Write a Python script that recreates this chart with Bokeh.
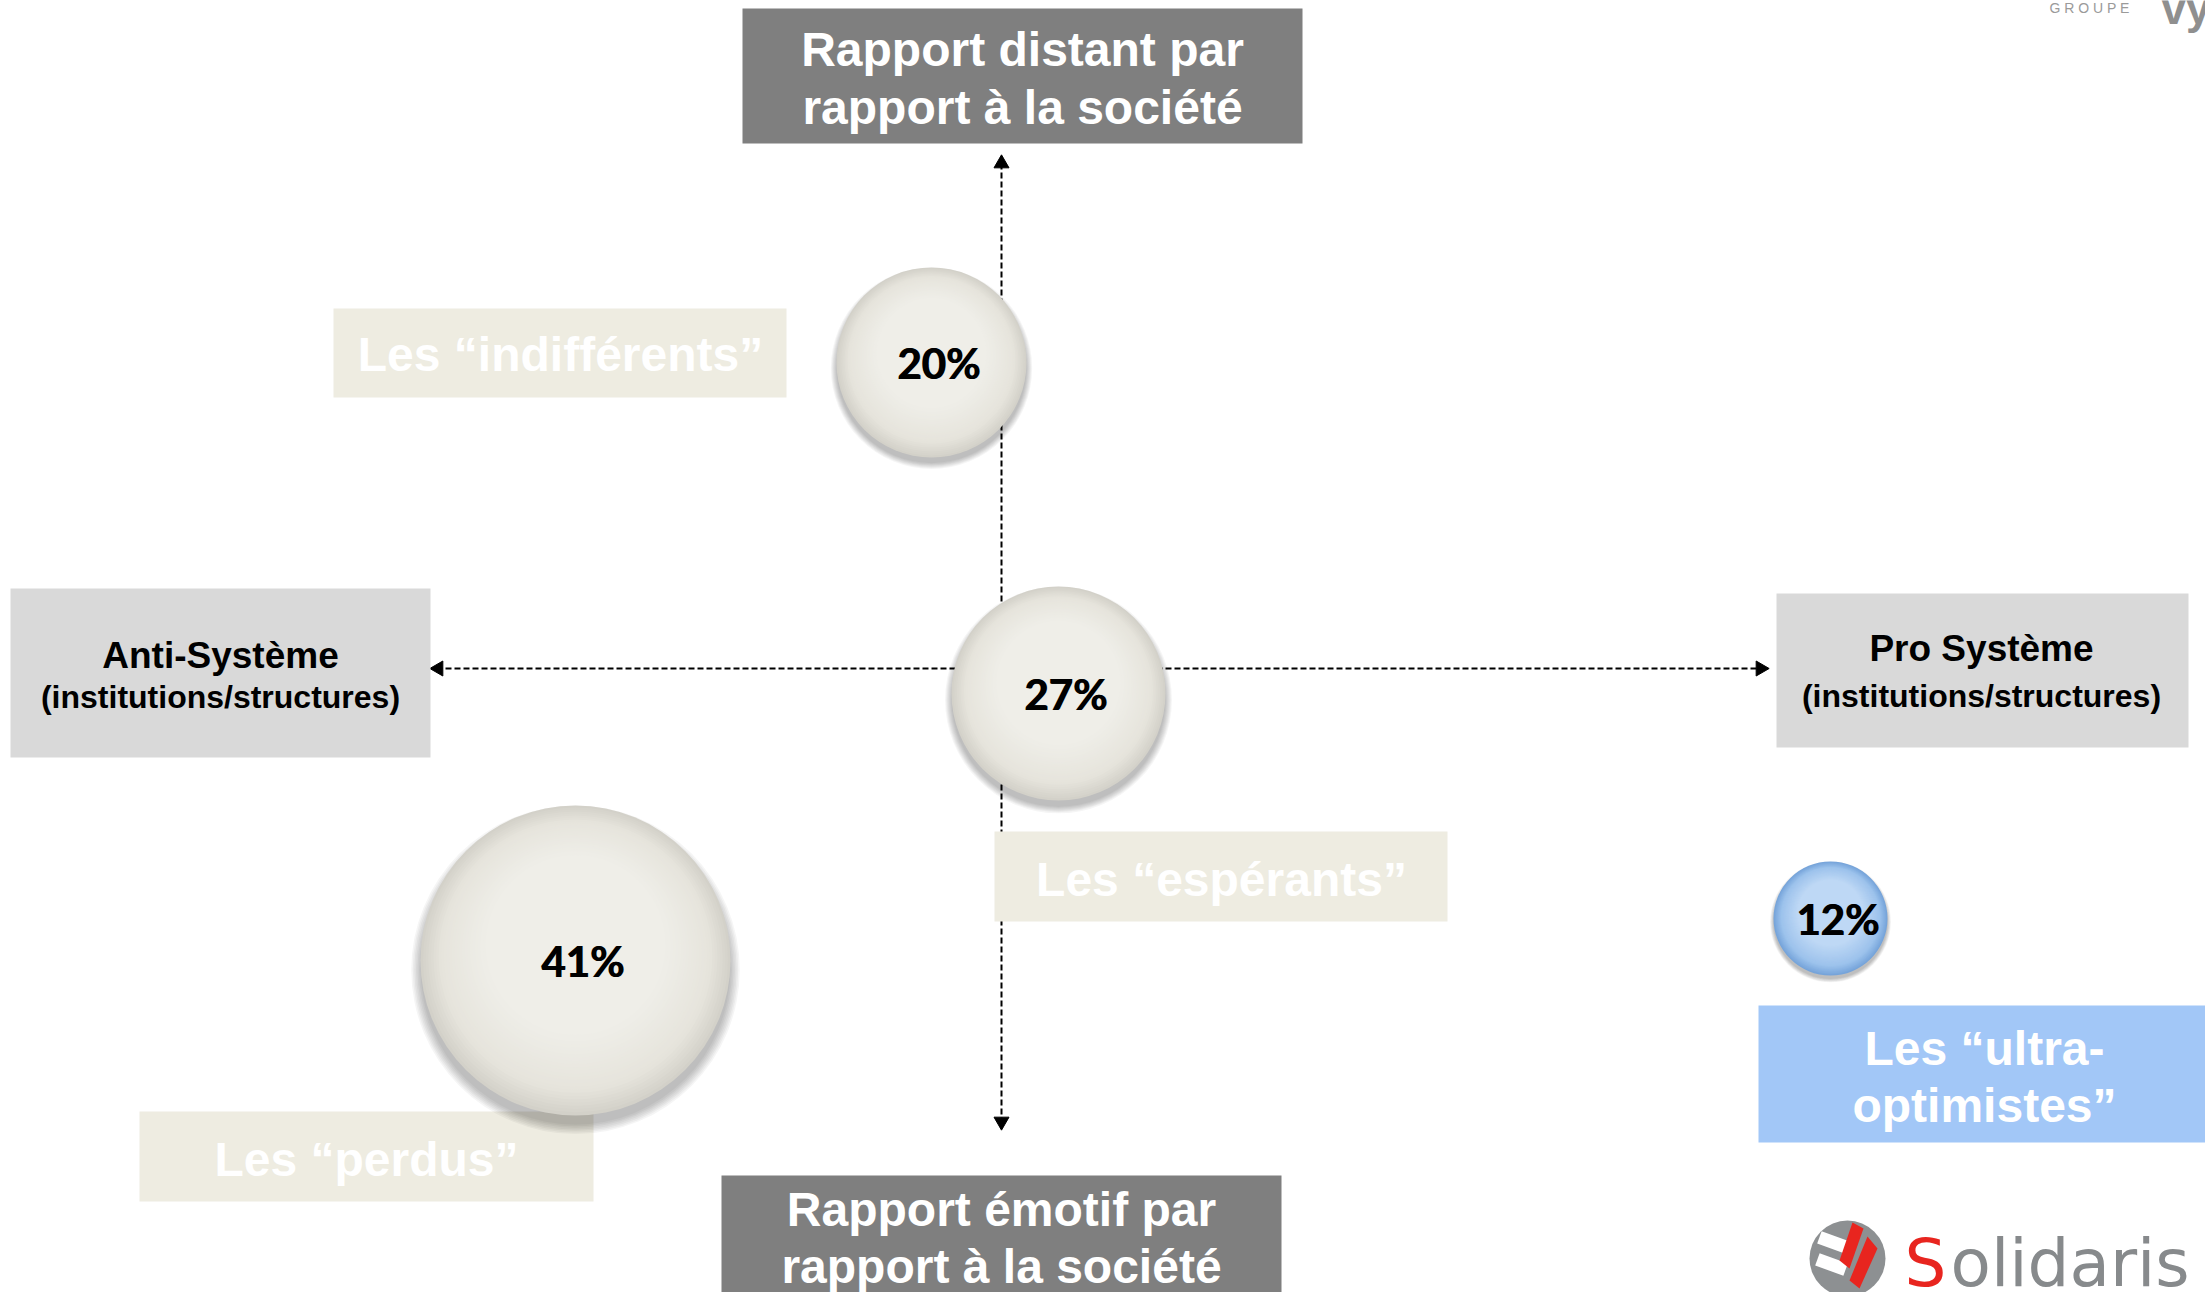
import numpy as np
from bokeh.plotting import figure
from bokeh.models import Range1d
from bokeh.core.properties import value
from bokeh.embed import file_html
from bokeh.resources import INLINE

# ---------------- data ----------------
# x: Anti-Système (-)  <->  Pro Système (+)
# y: Rapport émotif (-) <-> Rapport distant (+)
segments = ["Les “indifférents”", "Les “espérants”", "Les “perdus”", "Les “ultra-optimistes”"]
pct = [20, 27, 41, 12]
bubble_x = [-0.70, 0.57, -4.26, 8.29]
bubble_y = [3.06, -0.25, -2.92, -2.50]
bubble_r = [0.95, 1.07, 1.55, 0.57]
bubble_theme = ["neutral", "neutral", "neutral", "blue"]

axis_top = ["Rapport distant par", "rapport à la société"]
axis_bottom = ["Rapport émotif par", "rapport à la société"]
axis_left = ["Anti-Système", "(institutions/structures)"]
axis_right = ["Pro Système", "(institutions/structures)"]

pct_labels = [f"{v}%" for v in pct]

# ---------------- figure ----------------
W, H = 2205, 1292
p = figure(width=W, height=H, x_range=Range1d(-10.01, 12.04), y_range=Range1d(-6.24, 6.68),
           x_axis_type=None, y_axis_type=None, output_backend="svg", toolbar_location=None,
           min_border=0, background_fill_color="white", border_fill_color="white")
p.outline_line_color = None
p.grid.visible = False

ARIAL = value("Liberation Sans")

def box(l, r, t, b, color):
    p.quad(left=[l], right=[r], top=[t], bottom=[b], fill_color=color, line_color=None)

def label(x, y, txt, size, color, font=ARIAL, style="bold", align="center", baseline="middle"):
    p.text(x=[x], y=[y], text=[txt], text_font=font, text_font_size=f"{size}px",
           text_font_style=style, text_color=color, text_align=align, text_baseline=baseline)

# ---------------- dashed cross with arrow heads ----------------
v_top, v_bot = 5.13, -4.61
h_left, h_right = -5.71, 7.67
p.segment(x0=[0, h_left + 0.06], y0=[v_bot + 0.06, 0], x1=[0, h_right - 0.06], y1=[v_top - 0.06, 0],
          line_color="black", line_width=2, line_dash="6 3")
p.scatter(x=[0, 0, h_left + 0.08, h_right - 0.08], y=[v_top - 0.08, v_bot + 0.08, 0, 0],
          marker="triangle", size=15, angle=[0, np.pi, np.pi / 2, -np.pi / 2],
          fill_color="black", line_color="black")

# ---------------- axis title boxes ----------------
box(-2.59, 3.01, 6.60, 5.25, "#7f7f7f")
label(0.21, 6.19, axis_top[0], 48, "white")
label(0.21, 5.61, axis_top[1], 48, "white")

box(-2.80, 2.80, -5.07, -6.30, "#7f7f7f")
label(0.0, -5.41, axis_bottom[0], 48, "white")
label(0.0, -5.98, axis_bottom[1], 48, "white")

box(-9.91, -5.71, 0.80, -0.89, "#d9d9d9")
label(-7.81, 0.13, axis_left[0], 37, "black")
label(-7.81, -0.28, axis_left[1], 32, "black")

box(7.75, 11.87, 0.75, -0.79, "#d9d9d9")
label(9.80, 0.20, axis_right[0], 37, "black")
label(9.80, -0.27, axis_right[1], 32, "black")

# ---------------- segment label boxes ----------------
TAN = "#eeece1"
box(-6.68, -2.15, 3.60, 2.71, TAN)
label(-4.41, 3.14, segments[0], 48, "white")
box(-0.07, 4.46, -1.63, -2.53, TAN)
label(2.20, -2.11, segments[1], 48, "white")
box(-8.62, -4.08, -4.43, -5.33, TAN)
label(-6.35, -4.91, segments[2], 48, "white")
box(7.57, 12.10, -3.37, -4.74, "#a2c7f7")
label(9.83, -3.80, "Les “ultra-", 48, "white")
label(9.83, -4.37, "optimistes”", 48, "white")

# ---------------- bubbles ----------------
bx = np.array(bubble_x); by = np.array(bubble_y); br = np.array(bubble_r)

def hex2rgb(h):
    h = h.lstrip("#"); return [int(h[i:i + 2], 16) for i in (0, 2, 4)]

def lerp(c1, c2, t):
    a, b = hex2rgb(c1), hex2rgb(c2)
    return "#%02x%02x%02x" % tuple(int(round(x + (y - x) * t)) for x, y in zip(a, b))

palette = {"neutral": ("#d3d1c9", "#e6e4dc", "#efeee8"),
           "blue": ("#76a4da", "#9cc2ec", "#bed8f5")}

# soft drop shadow
for k in range(7):
    p.circle(x=bx, y=by - 0.06 * br, radius=br * (1.0 + 0.010 * k),
             fill_color="black", fill_alpha=0.04, line_color=None)

N = 26
for k in range(N):
    t = k / (N - 1)
    rad = br * (1.0 - 0.42 * t)
    cy = by + 0.10 * br * t
    cols = []
    for th in bubble_theme:
        e, m, c = palette[th]
        cols.append(lerp(e, m, t / 0.3) if t < 0.3 else lerp(m, c, (t - 0.3) / 0.7))
    p.circle(x=bx, y=cy, radius=rad, fill_color=cols, line_color=None)

for dx in (7, 8):
    p.text(x=bx, y=by, text=pct_labels, x_offset=dx, text_font=value("Lato"), text_font_style="bold",
           text_font_size="42px", text_color="black", text_align="center", text_baseline="middle")

# ---------------- logos ----------------
label(10.48, 6.61, "G  R  O  U  P  E", 14, "#9a9a9a", style="normal", align="left", baseline="alphabetic")
label(11.60, 6.60, "vyv", 44, "#8f8f8f", align="left", baseline="alphabetic")

gx, gy, gr = 8.46, -5.90, 0.38
p.circle(x=[gx], y=[gy], radius=gr, fill_color="#8d9092", line_color=None)
p.rect(x=[gx - 0.14, gx - 0.16], y=[gy + 0.16, gy - 0.06], width=0.30, height=0.13,
       angle=[-0.35, -0.35], fill_color="white", line_color=None)
p.patches(xs=[[gx + 0.05, gx + 0.16, gx + 0.02, gx - 0.08], [gx + 0.20, gx + 0.30, gx + 0.12, gx + 0.02]],
          ys=[[gy + 0.36, gy + 0.30, gy - 0.10, gy - 0.02], [gy + 0.22, gy + 0.10, gy - 0.30, gy - 0.22]],
          fill_color="#e8251f", line_color=None)
label(9.03, -5.95, "S", 66, "#e8251f", font=value("DejaVu Sans"), style="normal", align="left", baseline="alphabetic")
label(9.49, -5.95, "olidaris", 66, "#878a8c", font=value("DejaVu Sans"), style="normal", align="left", baseline="alphabetic")

open("out.html", "w").write(file_html(p, INLINE))
